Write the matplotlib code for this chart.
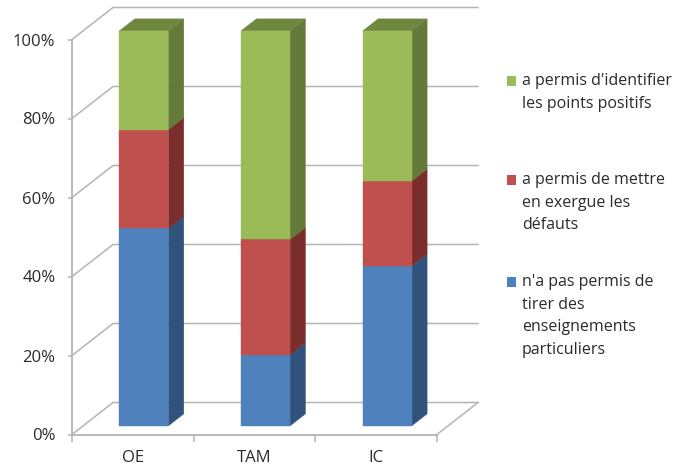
import matplotlib
matplotlib.use("Agg")
import matplotlib.pyplot as plt
from matplotlib.patches import Polygon, Rectangle

categories = ["OE", "TAM", "IC"]
blue_vals = [50, 18, 40.5]
red_vals = [25, 29.2, 21.5]
green_vals = [25, 52.8, 38]
y_ticks = [0, 20, 40, 60, 80, 100]
legend_labels = [
    "a permis d'identifier\nles points positifs",
    "a permis de mettre\nen exergue les\ndéfauts",
    "n'a pas permis de\ntirer des\nenseignements\nparticuliers",
]

W, H = 690, 471
FRONT, SIDE, TOP = 0, 1, 2
colors = {
    "blue": ("#4F81BD", "#30527B", "#3A6090"),
    "red": ("#C0504D", "#7A2E2C", "#8F3B39"),
    "green": ("#9BBB59", "#64793A", "#6E8840"),
}
GRID = "#B4B4B4"
TEXT = "#2B2B2B"

plt.rcParams["font.family"] = ["Open Sans", "DejaVu Sans"]
fig = plt.figure(figsize=(W / 100, H / 100), dpi=100)

# axes box is the front plane of the 3d box
left, right, bottom, top = 72, 437, 434.5, 39.5
ax = fig.add_axes([left / W, 1 - bottom / H, (right - left) / W, (bottom - top) / H])
ax.set_xlim(0, 3)
ax.set_ylim(0, 100)
ax.patch.set_visible(False)

x_unit = (right - left) / 3
y_unit = (bottom - top) / 100


def proj(x, y, depth=0.0):
    # oblique projection, depth 1 is the back wall
    return x + depth * 41 / x_unit, y + depth * 32 / y_unit


# walls
for t in y_ticks:
    pts = [proj(0, t), proj(0, t, 1), proj(3, t, 1)]
    ax.plot(*zip(*pts), color=GRID, lw=1.1, clip_on=False, zorder=1)
ax.plot(*zip(proj(3, 0), proj(3, 0, 1)), color=GRID, lw=1.1, clip_on=False, zorder=1)

# stacked bars
d0, d1 = 0.27, 0.645
bar_w = 49 / x_unit
stacks = [("blue", blue_vals), ("red", red_vals), ("green", green_vals)]
for i in range(len(categories)):
    x0 = i + 0.5 - bar_w / 2
    x1 = x0 + bar_w
    base = 0
    for name, vals in stacks:
        v = vals[i]
        c = colors[name]
        front = [proj(x0, base, d0), proj(x1, base, d0), proj(x1, base + v, d0), proj(x0, base + v, d0)]
        side = [proj(x1, base, d0), proj(x1, base, d1), proj(x1, base + v, d1), proj(x1, base + v, d0)]
        ax.add_patch(Polygon(side, fc=c[SIDE], ec=c[SIDE], lw=0.3, clip_on=False, zorder=3))
        ax.add_patch(Polygon(front, fc=c[FRONT], ec=c[FRONT], lw=0.3, clip_on=False, zorder=4))
        base += v
    lid = [proj(x0, base, d0), proj(x1, base, d0), proj(x1, base, d1), proj(x0, base, d1)]
    ax.add_patch(Polygon(lid, fc=colors["green"][TOP], ec=colors["green"][TOP], lw=0.3, clip_on=False, zorder=3))

# axes
for s in ["top", "right"]:
    ax.spines[s].set_visible(False)
for s in ["left", "bottom"]:
    ax.spines[s].set_color(GRID)
    ax.spines[s].set_linewidth(1.3)
    ax.spines[s].set_zorder(2)
ax.set_yticks(y_ticks)
ax.set_yticklabels([f"{t}%" for t in y_ticks], fontsize=12, color=TEXT)
ax.tick_params(axis="y", length=3, width=1.1, color=GRID, pad=9)
ax.set_xticks([0, 1, 2, 3])
ax.set_xticklabels([])
ax.tick_params(axis="x", which="major", length=5, width=1.1, color=GRID)
ax.set_xticks([0.5, 1.5, 2.5], minor=True)
ax.set_xticklabels(categories, minor=True, fontsize=12, color=TEXT)
ax.tick_params(axis="x", which="minor", length=0, pad=11)

# legend
legend_cols = [colors["green"][FRONT], colors["red"][FRONT], colors["blue"][FRONT]]
legend_tops = [73, 172, 274]
for label, col, ty in zip(legend_labels, legend_cols, legend_tops):
    fig.add_artist(Rectangle((507 / W, 1 - (ty + 13) / H), 9 / W, 10 / H, transform=fig.transFigure, fc=col, ec="none"))
    fig.text(522 / W, 1 - ty / H, label, fontsize=11.5, color=TEXT, va="top", ha="left", linespacing=1.56)

fig.savefig("out.png", dpi=100)
